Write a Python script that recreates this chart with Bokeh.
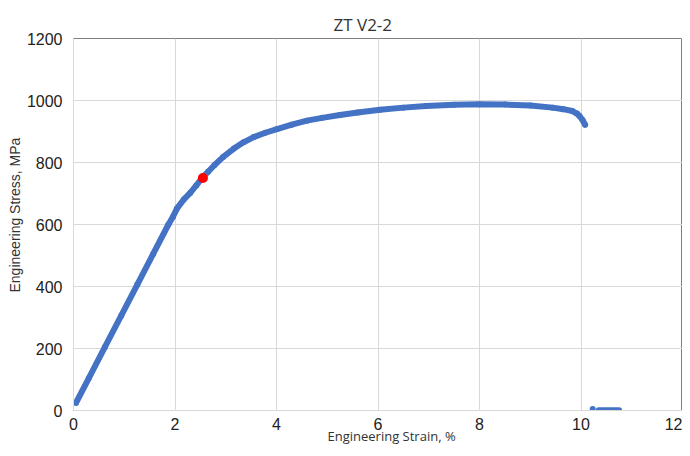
from bokeh.plotting import figure
from bokeh.models import Range1d, FixedTicker, Title, ColumnDataSource
from bokeh.embed import file_html
from bokeh.resources import INLINE

# ---- data ----
strain = [0.05, 0.30, 0.62, 0.94, 1.26, 1.57, 1.87, 1.96, 2.04, 2.17, 2.30, 2.42, 2.53,
          2.65, 2.78, 2.95, 3.16, 3.35, 3.55, 3.78, 4.01, 4.30, 4.60, 4.90, 5.25, 5.60,
          6.04, 6.50, 6.95, 7.50, 8.00, 8.50, 9.00, 9.44, 9.65, 9.83, 9.92, 9.97, 10.03, 10.08]
stress = [25, 104, 205, 306, 407, 505, 600, 625, 652, 680, 702, 726, 750,
          770, 792, 818, 845, 865, 882, 896, 908, 922, 935, 944, 953, 961,
          970, 977, 982, 986, 988, 987, 984, 977, 972, 966, 958, 950, 937, 922]
break_strain = [10.23]
break_stress = [5]
tail_strain = [10.35, 10.45, 10.55, 10.65, 10.75]
tail_stress = [1, 1, 1, 1, 1]
mark_strain = [2.55]
mark_stress = [750]
x_ticks = [0, 2, 4, 6, 8, 10, 12]
y_ticks = [0, 200, 400, 600, 800, 1000, 1200]

BLUE = "#4472C4"

p = figure(width=682, height=448, output_backend="svg", toolbar_location=None,
           x_range=Range1d(0, 12), y_range=Range1d(0, 1200),
           min_border_left=73, min_border_right=0, min_border_top=38, min_border_bottom=38)

p.title = Title(text="ZT V2-2", align="left", offset=260, standoff=5,
                text_font="Open Sans", text_font_size="17px", text_font_style="normal",
                text_color="#333333")

p.outline_line_color = "#808080"
p.outline_line_width = 1
p.background_fill_color = "white"
p.border_fill_color = "white"

for ax, ticks in ((p.xaxis[0], x_ticks), (p.yaxis[0], y_ticks)):
    ax.ticker = FixedTicker(ticks=ticks)
    ax.major_tick_line_color = None
    ax.minor_tick_line_color = None
    ax.major_tick_out = 0
    ax.major_tick_in = 0
    ax.axis_line_color = "#d9d9d9"
    ax.major_label_text_font = "Liberation Sans"
    ax.major_label_text_font_size = "16px"
    ax.major_label_text_color = "#222222"
p.xaxis[0].major_label_standoff = 7
p.yaxis[0].major_label_standoff = 11

p.xgrid.ticker = FixedTicker(ticks=x_ticks)
p.ygrid.ticker = FixedTicker(ticks=y_ticks)
p.xgrid.grid_line_color = "#d9d9d9"
p.ygrid.grid_line_color = "#d9d9d9"

p.add_layout(Title(text="Engineering Strain, %", align="left", offset=254, standoff=-12,
                   vertical_align="top", text_font="Open Sans", text_font_size="13px",
                   text_font_style="normal", text_color="#333333"), "below")
p.add_layout(Title(text="Engineering Stress, MPa", align="left", offset=118, standoff=0,
                   vertical_align="middle", text_font="Liberation Sans", text_font_size="14px",
                   text_font_style="normal", text_color="#333333"), "left")

src = ColumnDataSource(dict(x=strain, y=stress))
p.line("x", "y", source=src, line_color=BLUE, line_width=6, line_join="round", line_cap="round")
p.scatter("x", "y", source=src, size=6, fill_color=BLUE, line_color=None)
p.scatter(break_strain, break_stress, size=6, fill_color=BLUE, line_color=None)
p.line(tail_strain, tail_stress, line_color=BLUE, line_width=6, line_cap="round")
p.scatter(mark_strain, mark_stress, size=10, fill_color="#FF0000", line_color=None)

open("out.html", "w").write(file_html(p, INLINE))
